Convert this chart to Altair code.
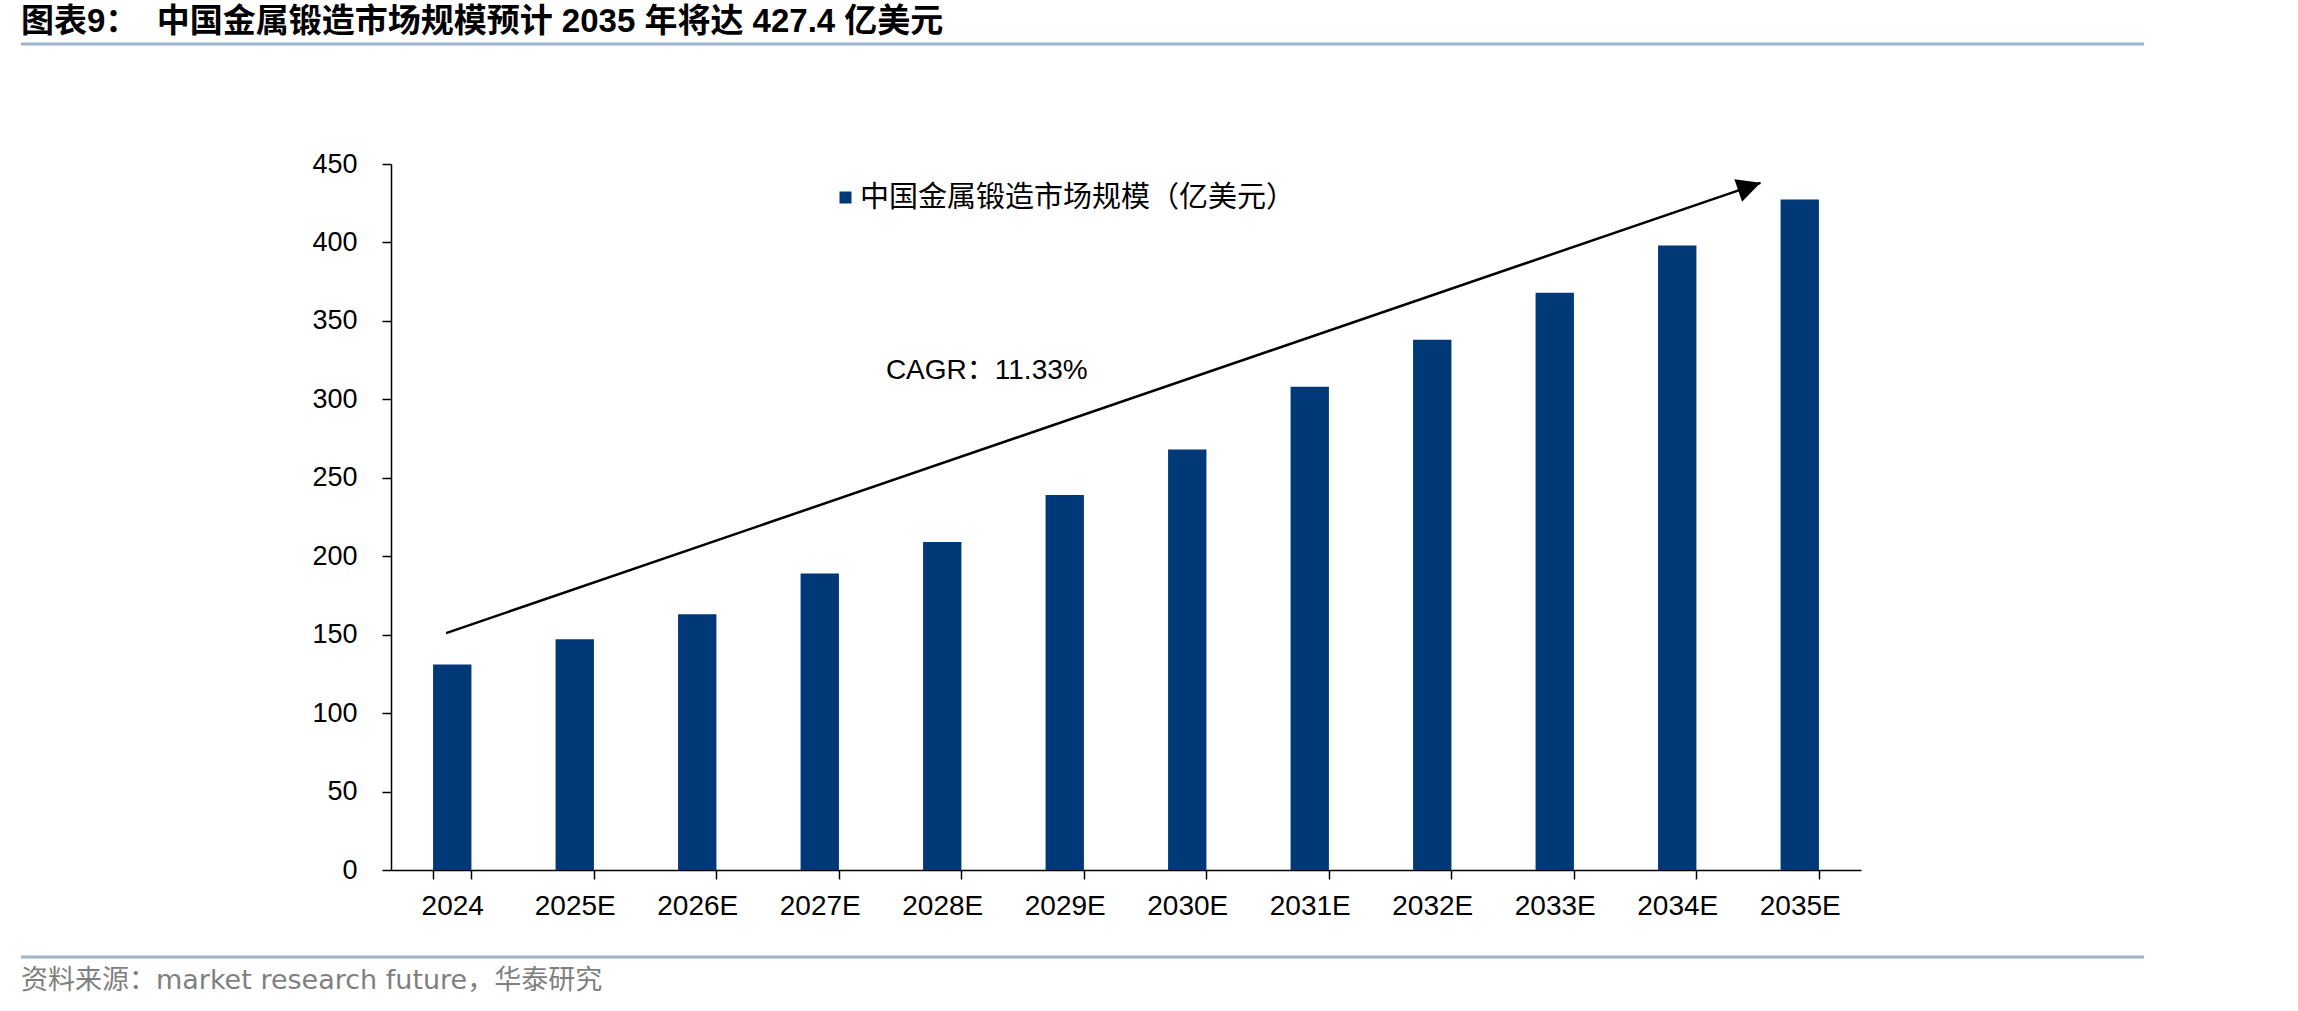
import altair as alt
import pandas as pd

# ---- data -------------------------------------------------------------
years = ["2024", "2025E", "2026E", "2027E", "2028E", "2029E",
         "2030E", "2031E", "2032E", "2033E", "2034E", "2035E"]
market_size = [131, 147, 163, 189, 209, 239, 268, 308, 338, 368, 398, 427.4]

series_name = "中国金属锻造市场规模（亿美元）"
title_text = "图表9：\u00a0\u00a0中国金属锻造市场规模预计 2035 年将达 427.4 亿美元"
source_text = "资料来源：market research future，华泰研究"
cagr_label = "CAGR：11.33%"

# trend arrow: x in category-index units (0 = 2024), y in 亿美元
arrow_x = [-0.05, 10.68]
arrow_y = [151, 438]
# CAGR label anchor (left / baseline)
cagr_x = [3.54]
cagr_y = [313]

# ---- styling ----------------------------------------------------------
NAVY = "#013878"
RULE_BLUE = "#9EB3CD"
LATIN = "Liberation Sans, Arial, Noto Sans CJK SC"
CJK = "Noto Sans CJK SC"

PLOT_W, PLOT_H = 1470, 706
PAD = {"left": 391, "top": 164, "right": 2298 - 391 - PLOT_W, "bottom": 1011 - 164 - PLOT_H}

df = pd.DataFrame({"year": years, "value": market_size, "series": series_name})
arrow_df = pd.DataFrame({"idx": arrow_x, "value": arrow_y})
cagr_df = pd.DataFrame({"idx": cagr_x, "value": cagr_y, "t": [cagr_label]})

y_enc = alt.Y(
    "value:Q",
    scale=alt.Scale(domain=[0, 450], nice=False, zero=True),
    axis=alt.Axis(
        title=None, values=list(range(0, 451, 50)), grid=False,
        domainColor="black", domainWidth=1.5, tickColor="black", tickWidth=1.5,
        tickSize=9, labelPadding=25, labelFont=LATIN, labelFontSize=27,
        labelColor="black",
    ),
)

idx_x = alt.X("idx:Q", scale=alt.Scale(domain=[-0.5, 11.5], nice=False, zero=False), axis=None)

bars = alt.Chart(df).mark_bar().encode(
    x=alt.X(
        "year:N", sort=years,
        scale=alt.Scale(paddingInner=0.687, paddingOuter=0.3435),
        axis=alt.Axis(
            title=None, labelAngle=0, tickBand="extent", labelOverlap=False,
            domainColor="black", domainWidth=1.5, tickColor="black", tickWidth=1.5,
            tickSize=9, labelPadding=13, labelFont=LATIN, labelFontSize=28,
            labelColor="black",
        ),
    ),
    y=y_enc,
    color=alt.Color(
        "series:N",
        scale=alt.Scale(domain=[series_name], range=[NAVY]),
        legend=alt.Legend(
            title=None, orient="none", legendX=440, legendY=19, padding=0,
            symbolType="square", symbolSize=144, symbolStrokeWidth=0,
            labelFont=CJK, labelFontSize=29, labelColor="black",
            labelOffset=0, labelLimit=0,
        ),
    ),
)

arrow_line = alt.Chart(arrow_df).mark_line(color="black", strokeWidth=2.5).encode(
    x=idx_x, y=y_enc
)

arrow_head = alt.Chart(arrow_df.tail(1)).mark_point(
    shape="M0,0 L-1,2 L1,2 Z", filled=True, size=557, angle=71,
    color="black", opacity=1, strokeWidth=0,
).encode(x=idx_x, y=y_enc)

cagr_text = alt.Chart(cagr_df).mark_text(
    align="left", baseline="alphabetic", font=LATIN, fontSize=28, color="black"
).encode(x=idx_x, y=y_enc, text="t:N")

# ---- page furniture: heading, rules and source note --------------------
title_mark = alt.Chart(pd.DataFrame({"t": [title_text]})).mark_text(
    align="left", baseline="alphabetic", font=LATIN, fontSize=33,
    fontWeight="bold", color="black",
).encode(x=alt.value(-370), y=alt.value(-132), text="t:N")

source_mark = alt.Chart(pd.DataFrame({"t": [source_text]})).mark_text(
    align="left", baseline="alphabetic", font="DejaVu Sans, Noto Sans CJK SC",
    fontSize=27, color="#7F7F7F",
).encode(x=alt.value(-370), y=alt.value(825), text="t:N")

one_row = pd.DataFrame({"k": [0]})
top_rule = alt.Chart(one_row).mark_rule(color=RULE_BLUE, strokeWidth=3).encode(
    x=alt.value(-370), x2=alt.value(1753), y=alt.value(-120)
)
bottom_rule = alt.Chart(one_row).mark_rule(color=RULE_BLUE, strokeWidth=3).encode(
    x=alt.value(-370), x2=alt.value(1753), y=alt.value(793)
)

chart = (
    alt.layer(bars, arrow_line, arrow_head, cagr_text,
              title_mark, source_mark, top_rule, bottom_rule)
    .resolve_scale(x="independent")
    .properties(
        width=PLOT_W, height=PLOT_H, padding=PAD,
        autosize=alt.AutoSizeParams(type="none"), background="white",
    )
    .configure_view(stroke=None)
)

chart.save("out.html", embed_options={"renderer": "svg", "actions": False})
